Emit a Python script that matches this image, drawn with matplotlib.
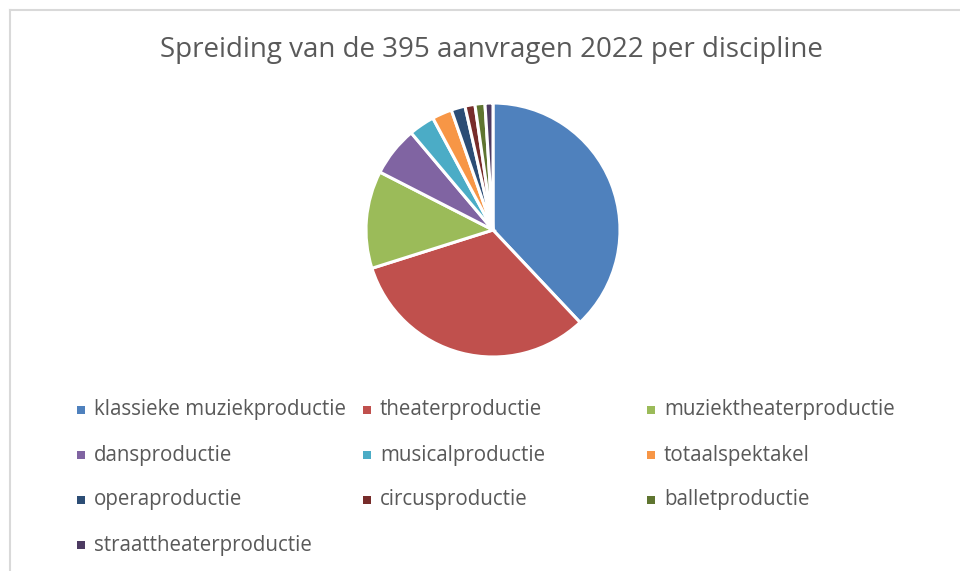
import numpy as np
import matplotlib.pyplot as plt
from matplotlib.patches import Rectangle

disciplines = ["klassieke muziekproductie", "theaterproductie", "muziektheaterproductie",
               "dansproductie", "musicalproductie", "totaalspektakel",
               "operaproductie", "circusproductie", "balletproductie",
               "straattheaterproductie"]
aantallen = [150, 127, 49, 25, 13, 10, 7, 5, 5, 4]
kleuren = ["#4F81BD", "#C0504D", "#9BBB59", "#8064A2", "#4BACC6",
           "#F79646", "#2C4D75", "#772C2A", "#5F7530", "#4D3B62"]
titel = "Spreiding van de 395 aanvragen 2022 per discipline"

W, H = 960, 571
fig = plt.figure(figsize=(W / 100, H / 100), dpi=100)
fig.patch.set_facecolor("white")
plt.rcParams['font.family'] = ['Open Sans', 'DejaVu Sans']
tekstkleur = "#595959"

# rand van het grafiekgebied
fig.add_artist(plt.Line2D([10 / W, 10 / W], [0, 1 - 10 / H], transform=fig.transFigure,
                          color="#D9D9D9", lw=1.5))
fig.add_artist(plt.Line2D([10 / W, 1], [1 - 10 / H, 1 - 10 / H], transform=fig.transFigure,
                          color="#D9D9D9", lw=1.5))

fig.text(491 / W, 1 - 50 / H, titel, ha="center", va="center", fontsize=20, color=tekstkleur)

# taart
cx, cy, r = 493, 230, 127
ax = fig.add_axes([(cx - r) / W, 1 - (cy + r) / H, 2 * r / W, 2 * r / H])
ax.pie(aantallen, colors=kleuren, startangle=90, counterclock=False,
       wedgeprops=dict(edgecolor="white", linewidth=2.2))
ax.set_xlim(-1, 1)
ax.set_ylim(-1, 1)
ax.set_aspect("auto")
ax.axis("off")

# legenda, rij per rij zoals in Excel
kol_x = [81, 367, 651]
rij_y = [410, 455, 500, 545]
for i, (naam, kleur) in enumerate(zip(disciplines, kleuren)):
    x = kol_x[i % 3]
    y = rij_y[i // 3]
    fig.add_artist(Rectangle(((x - 4) / W, 1 - (y + 4) / H), 8 / W, 8 / H,
                             transform=fig.transFigure, facecolor=kleur, edgecolor="none"))
    fig.text((x + 13) / W, 1 - y / H, naam, ha="left", va="center",
             fontsize=14.8, color=tekstkleur)

fig.savefig("out.png", dpi=100)
